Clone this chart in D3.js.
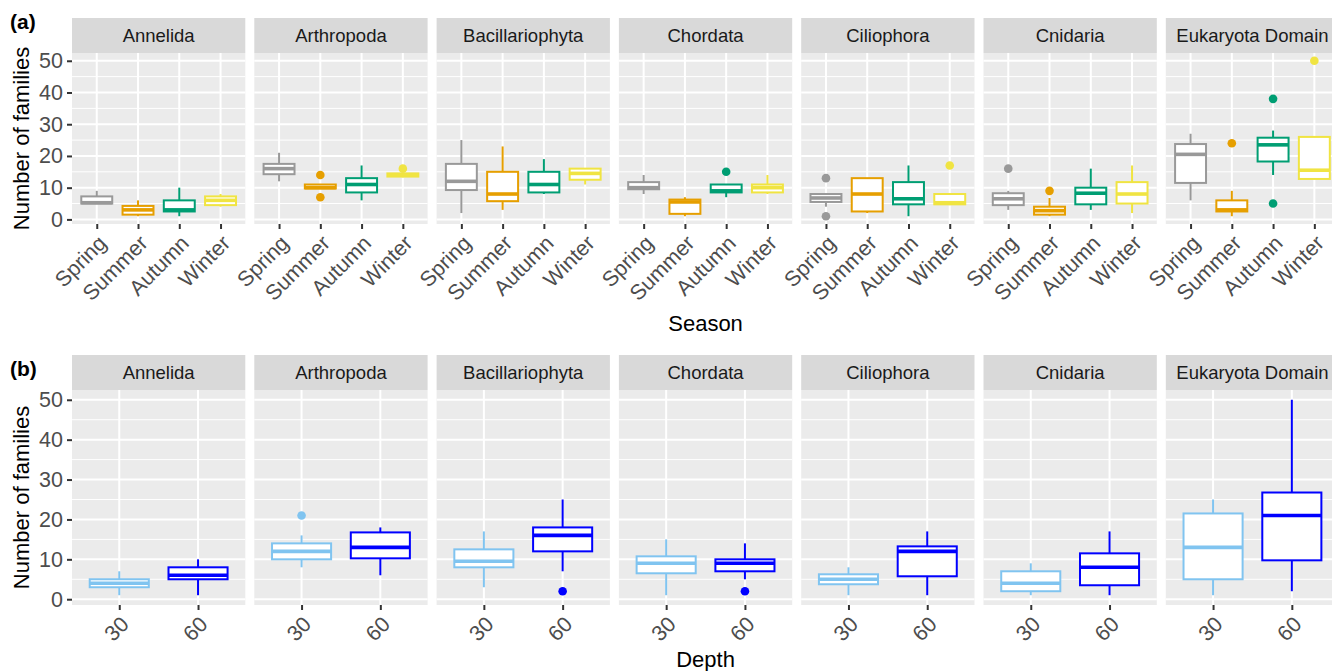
<!DOCTYPE html>
<html>
<head>
<meta charset="utf-8">
<script src="https://cdn.jsdelivr.net/npm/d3@7"></script>
<style>
  html, body { margin: 0; padding: 0; background: #ffffff; }
  svg { display: block; }
</style>
</head>
<body>
<script>
// Facet labels and categories
const phyla = ["Annelida", "Arthropoda", "Bacillariophyta", "Chordata", "Ciliophora", "Cnidaria", "Eukaryota Domain"];
const seasons = ["Spring", "Summer", "Autumn", "Winter"];
const depths = ["30", "60"];
const yTicks = [0, 10, 20, 30, 40, 50];
const yMinor = [5, 15, 25, 35, 45];

// Box summaries per phylum: [lower whisker, Q1, median, Q3, upper whisker]
const spring = [[5, 5, 5.25, 7.25, 9], [12, 14.25, 16, 17.5, 21], [2, 9.25, 12, 17.5, 25], [8, 9.5, 10, 11.75, 14], [4, 5.5, 6.75, 8, 8], [3, 4.5, 6.5, 8.25, 9], [6, 11.5, 20.5, 23.75, 27]];
const summer = [[1, 1.5, 3, 4.25, 6], [9.75, 9.75, 10, 11, 11], [3, 5.75, 8, 15, 23], [1, 1.75, 5.5, 6.25, 7], [2, 2.5, 8, 13, 13], [1, 1.5, 2.75, 4, 6.75], [1, 2.5, 3, 6, 9]];
const autumn = [[1, 2.5, 3, 6, 10], [6, 8.5, 11, 13, 17], [8, 8.5, 11, 15, 19], [7, 8.5, 9, 11, 11], [1, 4.75, 6.5, 11.75, 17], [3, 4.75, 8.25, 10, 16], [14, 18.25, 23.5, 25.75, 28]];
const winter = [[4, 4.5, 6, 7.25, 8], [13.25, 13.5, 14, 14.5, 14.5], [11, 12.5, 14.5, 16, 16], [8, 8.5, 10, 11, 14], [4.5, 4.75, 5.25, 8, 8], [2, 5, 8, 11.75, 17], [12.75, 12.75, 15.5, 26, 26]];

const depth30 = [[1, 3, 4, 5, 7], [8, 10, 12, 14, 16], [3, 8, 9.5, 12.5, 17], [1, 6.5, 9, 10.75, 15], [1, 3.75, 5, 6.25, 8], [1, 2, 4, 7, 9], [1, 5, 13, 21.5, 25]];
const depth60 = [[1, 5, 6, 8, 10], [6, 10.25, 13, 16.75, 18], [7, 12, 16, 18, 25], [5, 7, 9, 10, 14], [1, 5.75, 12, 13.25, 17], [1, 3.5, 8, 11.5, 17], [2, 9.75, 21, 26.75, 50]];

// Outlying points: [phylum, group, value]
const seasonOutliers = [
  ["Arthropoda", "Summer", 14], ["Arthropoda", "Summer", 7], ["Arthropoda", "Winter", 16],
  ["Chordata", "Autumn", 15],
  ["Ciliophora", "Spring", 13], ["Ciliophora", "Spring", 1], ["Ciliophora", "Winter", 17],
  ["Cnidaria", "Spring", 16], ["Cnidaria", "Summer", 9],
  ["Eukaryota Domain", "Summer", 24], ["Eukaryota Domain", "Autumn", 38], ["Eukaryota Domain", "Autumn", 5], ["Eukaryota Domain", "Winter", 50]
];
const depthOutliers = [["Arthropoda", "30", 21], ["Bacillariophyta", "60", 2], ["Chordata", "60", 2]];

const seasonColours = ["#999999", "#E69F00", "#009E73", "#F0E442"];
const depthColours = ["#80C4F0", "#0000FF"];

// ---- layout ----
const W = 1332, H = 671;
const left = 72, panelW = 173.3, gap = 9;
const font = "'Liberation Sans', Arial, Helvetica, sans-serif";
const tickFont = 21.5;

const svg = d3.select("body").append("svg")
  .attr("width", W).attr("height", H)
  .style("font-family", font);
svg.append("rect").attr("width", W).attr("height", H).attr("fill", "#ffffff");

function drawRow(cfg) {
  const y = d3.scaleLinear().domain([-1.45, 52.45]).range([cfg.panelBottom, cfg.panelTop]);
  const x = d3.scalePoint().domain(cfg.groups).range([0, panelW]).padding(0.6);
  const bw = x.step() * 0.75;

  phyla.forEach((ph, i) => {
    const g = svg.append("g").attr("transform", `translate(${left + i * (panelW + gap)},0)`);

    // panel background and grid
    g.append("rect").attr("x", 0).attr("y", cfg.panelTop)
      .attr("width", panelW).attr("height", cfg.panelBottom - cfg.panelTop)
      .attr("fill", "#EBEBEB");
    g.selectAll(".minor").data(yMinor).join("line")
      .attr("x1", 0).attr("x2", panelW)
      .attr("y1", d => y(d)).attr("y2", d => y(d))
      .attr("stroke", "#ffffff").attr("stroke-width", 1);
    g.selectAll(".major").data(yTicks).join("line")
      .attr("x1", 0).attr("x2", panelW)
      .attr("y1", d => y(d)).attr("y2", d => y(d))
      .attr("stroke", "#ffffff").attr("stroke-width", 2);
    g.selectAll(".vmajor").data(cfg.groups).join("line")
      .attr("x1", d => x(d)).attr("x2", d => x(d))
      .attr("y1", cfg.panelTop).attr("y2", cfg.panelBottom)
      .attr("stroke", "#ffffff").attr("stroke-width", 2);

    // strip
    g.append("rect").attr("x", 0).attr("y", cfg.stripTop)
      .attr("width", panelW).attr("height", cfg.panelTop - cfg.stripTop)
      .attr("fill", "#D9D9D9");
    g.append("text").attr("x", panelW / 2).attr("y", (cfg.stripTop + cfg.panelTop) / 2)
      .attr("dy", "0.35em").attr("text-anchor", "middle")
      .attr("font-size", 18.5).attr("fill", "#1A1A1A").text(ph);

    // boxes
    cfg.groups.forEach((grp, j) => {
      const s = cfg.boxes[j][i];
      const col = cfg.colours[j];
      const cx = x(grp);
      const bg = g.append("g");
      bg.append("line").attr("x1", cx).attr("x2", cx).attr("y1", y(s[0])).attr("y2", y(s[1]))
        .attr("stroke", col).attr("stroke-width", 2);
      bg.append("line").attr("x1", cx).attr("x2", cx).attr("y1", y(s[3])).attr("y2", y(s[4]))
        .attr("stroke", col).attr("stroke-width", 2);
      bg.append("rect").attr("x", cx - bw / 2).attr("y", y(s[3]))
        .attr("width", bw).attr("height", Math.max(0.5, y(s[1]) - y(s[3])))
        .attr("fill", "#ffffff").attr("stroke", col).attr("stroke-width", 2);
      bg.append("line").attr("x1", cx - bw / 2).attr("x2", cx + bw / 2)
        .attr("y1", y(s[2])).attr("y2", y(s[2]))
        .attr("stroke", col).attr("stroke-width", 3.6);
    });

    // outliers
    cfg.outliers.filter(o => o[0] === ph).forEach(o => {
      const j = cfg.groups.indexOf(o[1]);
      g.append("circle").attr("cx", x(o[1])).attr("cy", y(o[2])).attr("r", 4.3)
        .attr("fill", cfg.colours[j]);
    });

    // bottom axis with rotated labels
    const ax = g.append("g").attr("transform", `translate(0,${cfg.panelBottom})`)
      .call(d3.axisBottom(x).tickSize(5).tickSizeOuter(0));
    ax.select(".domain").remove();
    ax.selectAll(".tick line").attr("stroke", "#333333").attr("stroke-width", 2);
    ax.selectAll(".tick text")
      .attr("y", null).attr("dy", null)
      .attr("text-anchor", "end")
      .attr("transform", "translate(10.5,20.5) rotate(-45)")
      .attr("font-family", font).attr("font-size", tickFont).attr("fill", "#4D4D4D");

    // left axis on the first panel
    if (i === 0) {
      const ay = g.append("g").call(d3.axisLeft(y).tickValues(yTicks).tickSize(5).tickPadding(4));
      ay.select(".domain").remove();
      ay.selectAll(".tick line").attr("stroke", "#333333").attr("stroke-width", 2);
      ay.selectAll(".tick text").attr("font-family", font).attr("font-size", tickFont).attr("fill", "#4D4D4D");
    }
  });

  // titles and tag
  const midY = (cfg.panelTop + cfg.panelBottom) / 2;
  svg.append("text").attr("transform", `translate(21,${midY}) rotate(-90)`)
    .attr("text-anchor", "middle").attr("dy", "0.35em")
    .attr("font-size", 22).attr("fill", "#000000").text("Number of families");
  const totalW = phyla.length * panelW + (phyla.length - 1) * gap;
  svg.append("text").attr("x", left + totalW / 2).attr("y", cfg.xTitleY)
    .attr("text-anchor", "middle").attr("font-size", 22).attr("fill", "#000000").text(cfg.xTitle);
  svg.append("text").attr("x", 10).attr("y", cfg.tagY)
    .attr("font-size", 21).attr("font-weight", "bold").attr("fill", "#000000").text(cfg.tag);
}

drawRow({
  stripTop: 18, panelTop: 53, panelBottom: 224,
  groups: seasons, colours: seasonColours,
  boxes: [spring, summer, autumn, winter],
  outliers: seasonOutliers,
  xTitle: "Season", xTitleY: 331, tag: "(a)", tagY: 29
});

drawRow({
  stripTop: 355, panelTop: 390, panelBottom: 605,
  groups: depths, colours: depthColours,
  boxes: [depth30, depth60],
  outliers: depthOutliers,
  xTitle: "Depth", xTitleY: 667, tag: "(b)", tagY: 376
});
</script>
</body>
</html>
